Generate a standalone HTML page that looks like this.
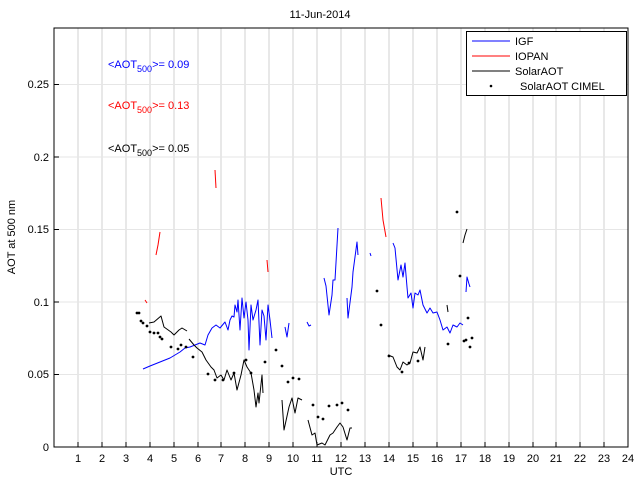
<!DOCTYPE html>
<html><head><meta charset="utf-8"><style>
body{margin:0;background:#fff;}
svg{display:block;font-family:"Liberation Sans",sans-serif;}
</style></head><body>
<svg width="640" height="480" viewBox="0 0 640 480" xmlns="http://www.w3.org/2000/svg">
<rect width="640" height="480" fill="#fff"/>
<g stroke="#d0d0d0" stroke-width="1">
<line x1="78" y1="28" x2="78" y2="447"/><line x1="102" y1="28" x2="102" y2="447"/><line x1="126" y1="28" x2="126" y2="447"/><line x1="150" y1="28" x2="150" y2="447"/><line x1="174" y1="28" x2="174" y2="447"/><line x1="198" y1="28" x2="198" y2="447"/><line x1="221" y1="28" x2="221" y2="447"/><line x1="245" y1="28" x2="245" y2="447"/><line x1="269" y1="28" x2="269" y2="447"/><line x1="293" y1="28" x2="293" y2="447"/><line x1="317" y1="28" x2="317" y2="447"/><line x1="341" y1="28" x2="341" y2="447"/><line x1="365" y1="28" x2="365" y2="447"/><line x1="389" y1="28" x2="389" y2="447"/><line x1="413" y1="28" x2="413" y2="447"/><line x1="437" y1="28" x2="437" y2="447"/><line x1="461" y1="28" x2="461" y2="447"/><line x1="485" y1="28" x2="485" y2="447"/><line x1="509" y1="28" x2="509" y2="447"/><line x1="533" y1="28" x2="533" y2="447"/><line x1="556" y1="28" x2="556" y2="447"/><line x1="580" y1="28" x2="580" y2="447"/><line x1="604" y1="28" x2="604" y2="447"/>
</g>
<g stroke="#e6e6e6" stroke-width="1">
<line x1="54" y1="374.5" x2="628" y2="374.5"/><line x1="54" y1="302" x2="628" y2="302"/><line x1="54" y1="229.5" x2="628" y2="229.5"/><line x1="54" y1="157" x2="628" y2="157"/><line x1="54" y1="84.5" x2="628" y2="84.5"/>
</g>
<rect x="54" y="28" width="574" height="419" fill="none" stroke="#000" stroke-width="1"/>
<g stroke="#000">
<line x1="78" y1="447" x2="78" y2="442"/><line x1="102" y1="447" x2="102" y2="442"/><line x1="126" y1="447" x2="126" y2="442"/><line x1="150" y1="447" x2="150" y2="442"/><line x1="174" y1="447" x2="174" y2="442"/><line x1="198" y1="447" x2="198" y2="442"/><line x1="221" y1="447" x2="221" y2="442"/><line x1="245" y1="447" x2="245" y2="442"/><line x1="269" y1="447" x2="269" y2="442"/><line x1="293" y1="447" x2="293" y2="442"/><line x1="317" y1="447" x2="317" y2="442"/><line x1="341" y1="447" x2="341" y2="442"/><line x1="365" y1="447" x2="365" y2="442"/><line x1="389" y1="447" x2="389" y2="442"/><line x1="413" y1="447" x2="413" y2="442"/><line x1="437" y1="447" x2="437" y2="442"/><line x1="461" y1="447" x2="461" y2="442"/><line x1="485" y1="447" x2="485" y2="442"/><line x1="509" y1="447" x2="509" y2="442"/><line x1="533" y1="447" x2="533" y2="442"/><line x1="556" y1="447" x2="556" y2="442"/><line x1="580" y1="447" x2="580" y2="442"/><line x1="604" y1="447" x2="604" y2="442"/>
<line x1="54" y1="374.5" x2="59" y2="374.5"/><line x1="54" y1="302" x2="59" y2="302"/><line x1="54" y1="229.5" x2="59" y2="229.5"/><line x1="54" y1="157" x2="59" y2="157"/><line x1="54" y1="84.5" x2="59" y2="84.5"/>
</g>
<g font-size="11" fill="#000" text-anchor="middle">
<text x="78" y="462">1</text><text x="102" y="462">2</text><text x="126" y="462">3</text><text x="150" y="462">4</text><text x="174" y="462">5</text><text x="198" y="462">6</text><text x="221" y="462">7</text><text x="245" y="462">8</text><text x="269" y="462">9</text><text x="293" y="462">10</text><text x="317" y="462">11</text><text x="341" y="462">12</text><text x="365" y="462">13</text><text x="389" y="462">14</text><text x="413" y="462">15</text><text x="437" y="462">16</text><text x="461" y="462">17</text><text x="485" y="462">18</text><text x="509" y="462">19</text><text x="533" y="462">20</text><text x="556" y="462">21</text><text x="580" y="462">22</text><text x="604" y="462">23</text><text x="628" y="462">24</text>
<text x="341" y="475">UTC</text>
<text x="320" y="18">11-Jun-2014</text>
</g>
<g font-size="11" fill="#000" text-anchor="end">
<text x="49" y="451">0</text><text x="49" y="378">0.05</text><text x="49" y="306">0.1</text><text x="49" y="233">0.15</text><text x="49" y="161">0.2</text><text x="49" y="88">0.25</text>
</g>
<text x="15" y="237" font-size="11" text-anchor="middle" transform="rotate(-90 15 237)">AOT at 500 nm</text>
<g fill="none" stroke-width="1" stroke-linejoin="round">
<polyline stroke="#0000ff" points="143,369 150,366 160,362 170,358 180,352 185,348 190,347 195,345 200,343 205,345 208,335 212,328 216,325 220,328 225,322 228,330 230,320 232,316 234,317 235,305 237,312 238,300 240,330 242,298 244,318 246,302 248,320 249,350 251,305 253,320 256,310 258,300 260,345 262,310 264,316 266,340 268,305 270,320 272,338"/>
<polyline stroke="#0000ff" points="285,327 287,337 289,323"/>
<polyline stroke="#0000ff" points="307,322 309,326 311,325"/>
<polyline stroke="#0000ff" points="324,278 326,286 329,315 332,295 333,280 335,280 338,228"/>
<polyline stroke="#0000ff" points="347,298 348,318 352,287 353,272 357,242 358,255"/>
<polyline stroke="#0000ff" points="370,253 371,256"/>
<polyline stroke="#0000ff" points="393,243 395,248 398,280 401,265 403,277 405,263 407,287 408,298 411,293 413,308 415,293 418,295 420,290 423,305 427,313 430,308 433,313 437,312 440,320 443,330 447,327 450,333 453,325 457,327 460,323 463,325"/>
<polyline stroke="#0000ff" points="466,292 467,277 469,284 470,287"/>
<polyline stroke="#ff0000" points="145,300 147,303"/>
<polyline stroke="#ff0000" points="156,255 158,245 160,232"/>
<polyline stroke="#ff0000" points="215,170 216,188"/>
<polyline stroke="#ff0000" points="267,260 268,272"/>
<polyline stroke="#ff0000" points="381,198 383,220 386,237"/>
<polyline stroke="#000" points="149,323 154,322 161,316 164,327 171,332 174,335 179,330 182,328 187,331"/>
<polyline stroke="#000" points="189,339 194,345 197,348 202,352 206,360 211,367 214,370 217,378 221,375 224,380 227,370 231,380 234,373 237,390 241,375 244,360 247,367 251,373 254,390 256,407 258,393 259,403 262,375 263,393"/>
<polyline stroke="#000" points="282,400 284,430 289,407 292,398 295,413 298,398 302,400"/>
<polyline stroke="#000" points="308,420 312,435 315,433 317,445 322,443 325,445 330,435 333,433 337,427 340,423 343,427 347,440 350,428 352,428"/>
<polyline stroke="#000" points="388,355 393,357 397,367 400,370 403,362 407,365 410,363 413,352 417,353 420,347 423,360 425,347"/>
<polyline stroke="#000" points="447,305 448,312"/>
<polyline stroke="#000" points="463,243 465,235 467,229"/>
</g>
<g fill="#000">
<circle cx="137" cy="313" r="1.4"/><circle cx="139" cy="313" r="1.4"/><circle cx="141" cy="321" r="1.4"/><circle cx="143" cy="323" r="1.4"/><circle cx="147" cy="326" r="1.4"/><circle cx="150" cy="332" r="1.4"/><circle cx="154" cy="333" r="1.4"/><circle cx="158" cy="333" r="1.4"/><circle cx="160" cy="337" r="1.4"/><circle cx="162" cy="339" r="1.4"/><circle cx="171" cy="347" r="1.4"/><circle cx="178" cy="349" r="1.4"/><circle cx="181" cy="345" r="1.4"/><circle cx="186" cy="347" r="1.4"/><circle cx="193" cy="357" r="1.4"/><circle cx="208" cy="374" r="1.4"/><circle cx="215" cy="380" r="1.4"/><circle cx="223" cy="380" r="1.4"/><circle cx="234" cy="373" r="1.4"/><circle cx="246" cy="360" r="1.4"/><circle cx="251" cy="373" r="1.4"/><circle cx="265" cy="362" r="1.4"/><circle cx="276" cy="350" r="1.4"/><circle cx="282" cy="366" r="1.4"/><circle cx="288" cy="382" r="1.4"/><circle cx="293" cy="378" r="1.4"/><circle cx="299" cy="379" r="1.4"/><circle cx="313" cy="405" r="1.4"/><circle cx="318" cy="417" r="1.4"/><circle cx="323" cy="419" r="1.4"/><circle cx="329" cy="406" r="1.4"/><circle cx="337" cy="405" r="1.4"/><circle cx="342" cy="403" r="1.4"/><circle cx="348" cy="410" r="1.4"/><circle cx="377" cy="291" r="1.4"/><circle cx="381" cy="325" r="1.4"/><circle cx="389" cy="356" r="1.4"/><circle cx="402" cy="372" r="1.4"/><circle cx="409" cy="363" r="1.4"/><circle cx="418" cy="361" r="1.4"/><circle cx="448" cy="344" r="1.4"/><circle cx="457" cy="212" r="1.4"/><circle cx="460" cy="276" r="1.4"/><circle cx="464" cy="341" r="1.4"/><circle cx="466" cy="340" r="1.4"/><circle cx="468" cy="318" r="1.4"/><circle cx="470" cy="347" r="1.4"/><circle cx="472" cy="338" r="1.4"/>
</g>
<g font-size="11">
<text x="108" y="68" fill="#0000ff">&lt;AOT<tspan font-size="9" dy="4">500</tspan><tspan dy="-4">&gt;= 0.09</tspan></text>
<text x="108" y="109" fill="#ff0000">&lt;AOT<tspan font-size="9" dy="4">500</tspan><tspan dy="-4">&gt;= 0.13</tspan></text>
<text x="108" y="152" fill="#000">&lt;AOT<tspan font-size="9" dy="4">500</tspan><tspan dy="-4">&gt;= 0.05</tspan></text>
</g>
<rect x="466.5" y="31.5" width="160" height="64" fill="#fff" stroke="#000"/>
<g stroke-width="1">
<line x1="472" y1="41" x2="510" y2="41" stroke="#0000ff"/>
<line x1="472" y1="56" x2="510" y2="56" stroke="#ff0000"/>
<line x1="472" y1="71" x2="510" y2="71" stroke="#000"/>
</g>
<circle cx="491" cy="86" r="1.3" fill="#000"/>
<g font-size="11" fill="#000">
<text x="515" y="45">IGF</text><text x="515" y="60">IOPAN</text><text x="515" y="75">SolarAOT</text><text x="520" y="90">SolarAOT CIMEL</text>
</g>
</svg>
</body></html>
